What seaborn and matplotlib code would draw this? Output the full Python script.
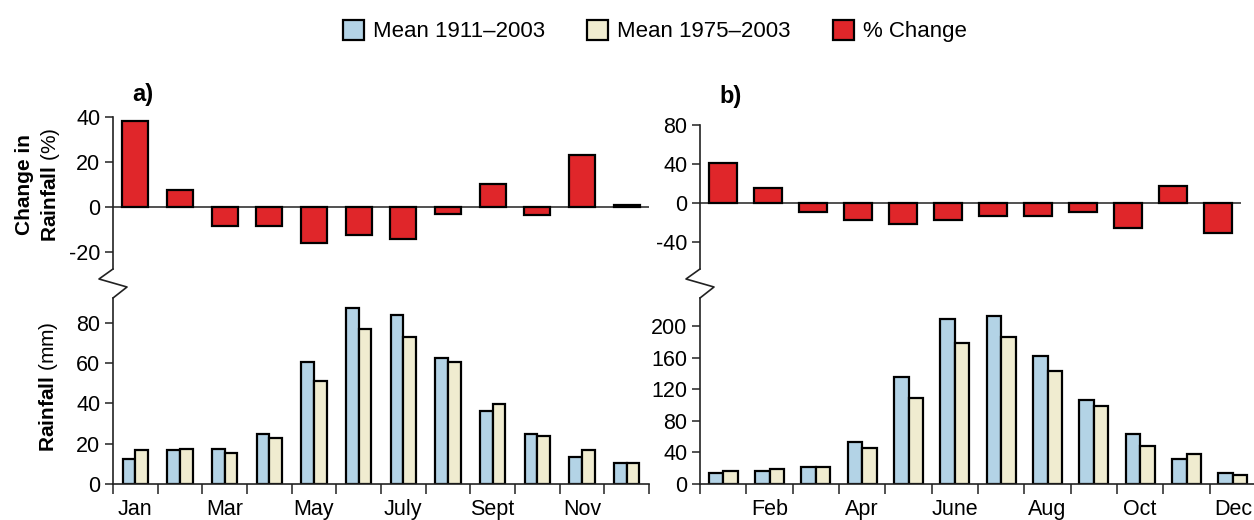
import numpy as np
import pandas as pd
import matplotlib
matplotlib.use("Agg")
import matplotlib.pyplot as plt
import seaborn as sns
from matplotlib.patches import Patch
from matplotlib.lines import Line2D

# ---------------- data ----------------
months = ["Jan", "Feb", "Mar", "Apr", "May", "Jun", "Jul", "Aug", "Sep", "Oct", "Nov", "Dec"]
labels_a = ["Jan", "", "Mar", "", "May", "", "July", "", "Sept", "", "Nov", ""]
labels_b = ["", "Feb", "", "Apr", "", "June", "", "Aug", "", "Oct", "", "Dec"]
series_names = ["Mean 1911–2003", "Mean 1975–2003", "% Change"]

pct_a = [38.2, 7.6, -8.5, -8.5, -15.9, -12.2, -14.1, -3.0, 10.3, -3.7, 23.2, 0.9]
long_a = [12.5, 16.8, 17.6, 25.0, 60.5, 87.4, 84.2, 62.4, 36.5, 25.0, 13.6, 10.5]
recent_a = [16.7, 17.6, 15.6, 23.0, 51.0, 77.0, 72.8, 60.4, 39.6, 24.0, 16.7, 10.5]

pct_b = [41.0, 15.4, -8.9, -17.4, -21.5, -17.4, -13.0, -13.0, -8.9, -25.6, 17.4, -30.4]
long_b = [13.5, 16.0, 21.0, 53.3, 135.7, 209.7, 213.0, 162.0, 106.5, 63.8, 32.0, 13.5]
recent_b = [16.0, 18.6, 21.0, 45.2, 109.0, 178.4, 186.5, 144.0, 98.5, 48.2, 37.6, 11.0]

BLUE = "#b3d3e6"
BEIGE = "#f0ecd0"
RED = "#e0262a"

sns.set_theme(style="white")
plt.rcParams["font.family"] = ["Liberation Sans", "DejaVu Sans"]
plt.rcParams["mathtext.fontset"] = "custom"
plt.rcParams["mathtext.rm"] = "Liberation Sans"
plt.rcParams["mathtext.bf"] = "Liberation Sans:bold"
plt.rcParams["axes.unicode_minus"] = False
plt.rcParams["text.color"] = "black"
plt.rcParams["xtick.labelcolor"] = "black"
plt.rcParams["ytick.labelcolor"] = "black"
FS = 15.5
FS_LAB = 15
FS_LEG = 16

W, H = 1254, 520
fig = plt.figure(figsize=(W / 100, H / 100), dpi=100)


def frac(x0, y_top, x1, y_bot):
    return [x0 / W, 1 - y_bot / H, (x1 - x0) / W, (y_bot - y_top) / H]


def style_left(ax, yticks):
    ax.set_yticks(yticks)
    ax.tick_params(axis="y", which="major", left=True, length=6, width=1.1,
                   color="#222", labelsize=FS, labelcolor="black", pad=3)
    ax.spines["left"].set_color("#222")
    ax.spines["left"].set_linewidth(1.2)
    for s in ["top", "right"]:
        ax.spines[s].set_visible(False)


def top_panel(rect, pct, ylim, yticks, width):
    ax = fig.add_axes(frac(*rect))
    df = pd.DataFrame({"month": months, "pct": pct})
    sns.barplot(data=df, x="month", y="pct", color=RED, width=width, saturation=1,
                edgecolor="black", linewidth=1.6, ax=ax)
    ax.axhline(0, color="#333", lw=1.2, zorder=0.5)
    ax.set_xlim(-0.5, 11.5)
    ax.set_ylim(*ylim)
    ax.set_xlabel("")
    ax.set_ylabel("")
    ax.set_xticks([])
    ax.spines["bottom"].set_visible(False)
    style_left(ax, yticks)
    return ax


def bottom_panel(rect, long, recent, ylim, yticks, width, labels):
    ax = fig.add_axes(frac(*rect))
    df = pd.DataFrame({"month": months * 2, "rain": long + recent,
                       "period": [series_names[0]] * 12 + [series_names[1]] * 12})
    sns.barplot(data=df, x="month", y="rain", hue="period", palette=[BLUE, BEIGE],
                width=width, saturation=1, edgecolor="black", linewidth=1.6,
                legend=False, ax=ax)
    ax.set_xlim(-0.5, 11.5)
    ax.set_ylim(*ylim)
    ax.set_xlabel("")
    ax.set_ylabel("")
    ax.set_xticks(np.arange(-0.5, 12, 1))
    ax.set_xticklabels([""] * 13)
    ax.set_xticks(np.arange(12), minor=True)
    ax.set_xticklabels(labels, minor=True)
    ax.tick_params(axis="x", which="major", bottom=True, length=7, width=1.1, color="#222")
    ax.tick_params(axis="x", which="minor", bottom=True, length=0, labelsize=FS,
                   labelcolor="black", pad=11)
    ax.spines["bottom"].set_color("#222")
    ax.spines["bottom"].set_linewidth(1.2)
    style_left(ax, yticks)
    return ax


ax_ta = top_panel((113, 117, 649, 269), pct_a, (-27.5, 40), [-20, 0, 20, 40], 0.58)
ax_ba = bottom_panel((113, 298, 649, 484), long_a, recent_a, (0, 92.4),
                     [0, 20, 40, 60, 80], 0.56, labels_a)
ax_tb = top_panel((700, 125, 1241, 269), pct_b, (-67.7, 80), [-40, 0, 40, 80], 0.62)
ax_bb = bottom_panel((700, 298, 1256, 484), long_b, recent_b, (0, 236),
                     [0, 40, 80, 120, 160, 200], 0.62, labels_b)

# axis break zig-zags
for xs in (113, 700):
    pts = [(xs, 269), (xs - 14, 279), (xs + 14, 287), (xs, 298)]
    fig.add_artist(Line2D([p[0] / W for p in pts], [1 - p[1] / H for p in pts],
                          transform=fig.transFigure, color="#222", lw=1.2))

# panel labels
fig.text(143 / W, 1 - 94 / H, "a)", fontsize=17, fontweight="bold", ha="center", va="center")
fig.text(731 / W, 1 - 96 / H, "b)", fontsize=17, fontweight="bold", ha="center", va="center")

# y-axis titles
fig.text(25 / W, 1 - 185 / H, "Change in", fontsize=FS_LAB, fontweight="bold", rotation=90,
         ha="center", va="center")
fig.text(51 / W, 1 - 185 / H, r"$\mathbf{Rainfall}$ (%)", fontsize=FS_LAB, rotation=90,
         ha="center", va="center")
fig.text(48 / W, 1 - 387 / H, r"$\mathbf{Rainfall}$ (mm)", fontsize=FS_LAB, rotation=90,
         ha="center", va="center")

# legend
handles = [Patch(facecolor=c, edgecolor="black", linewidth=1.6) for c in (BLUE, BEIGE, RED)]
fig.legend(handles, series_names, loc="center", bbox_to_anchor=(655 / W, 1 - 31 / H),
           ncol=3, frameon=False, fontsize=FS_LEG, handlelength=0.95, handleheight=1.05,
           handletextpad=0.4, columnspacing=1.9)

fig.savefig("out.png", dpi=100)
